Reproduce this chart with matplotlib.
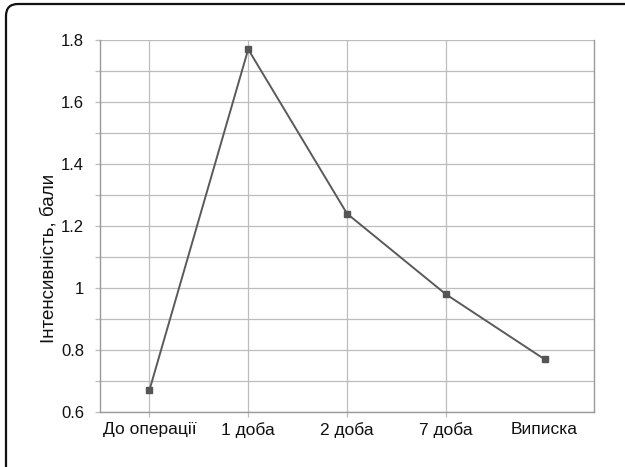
import matplotlib
matplotlib.use("Agg")
import matplotlib.pyplot as plt
from matplotlib.path import Path
from matplotlib.patches import PathPatch
from matplotlib.ticker import MultipleLocator

plt.rcParams['font.family'] = ['Liberation Sans', 'DejaVu Sans']

categories = ["До операції", "1 доба", "2 доба", "7 доба", "Випиcка"]
intensity = [0.67, 1.77, 1.24, 0.98, 0.77]
y_ticks = [0.6, 0.8, 1.0, 1.2, 1.4, 1.6, 1.8]
y_tick_labels = ["0.6", "0.8", "1", "1.2", "1.4", "1.6", "1.8"]

W, H = 625, 467
fig = plt.figure(figsize=(W / 100, H / 100), dpi=100)
fig.patch.set_facecolor("white")

# frame along the left and top edges with a rounded corner
r = 12
verts = [(6 / W, 0.0), (6 / W, 1 - (4 + r) / H),
         (6 / W, 1 - 4 / H), ((6 + r) / W, 1 - 4 / H),
         (1.0, 1 - 4 / H)]
codes = [Path.MOVETO, Path.LINETO, Path.CURVE3, Path.CURVE3, Path.LINETO]
fig.patches.append(PathPatch(Path(verts, codes), transform=fig.transFigure,
                             fill=False, edgecolor="#111111", linewidth=1.6))

ax_left, ax_bottom, ax_w, ax_h = 100, 412, 494, 372
ax = fig.add_axes([ax_left / W, 1 - ax_bottom / H, ax_w / W, ax_h / H])
x = list(range(len(categories)))

grid_c = "#bdbdbd"
ax.set_xlim(-0.5, len(categories) - 0.5)
ax.set_ylim(0.6, 1.8)
ax.yaxis.set_minor_locator(MultipleLocator(0.1))
ax.set_yticks(y_ticks)
ax.set_yticklabels(y_tick_labels)
ax.set_xticks(x)
ax.set_xticklabels(categories)

for yv in [0.6 + 0.1 * i for i in range(13)]:
    ax.axhline(yv, color=grid_c, linewidth=0.9, zorder=1)
for xv in x[:-1]:
    ax.axvline(xv, color=grid_c, linewidth=0.9, zorder=1)

ax.plot(x, intensity, color="#5a5a5a", linewidth=1.4, zorder=3,
        marker="s", markersize=5, markerfacecolor="#555555",
        markeredgecolor="#555555")

for side in ["left", "bottom", "right"]:
    ax.spines[side].set_color("#9a9a9a")
    ax.spines[side].set_linewidth(1.0)
ax.spines["top"].set_visible(False)

ax.tick_params(axis="both", which="both", direction="out", color="#bdbdbd",
               length=3.5, width=0.9, labelsize=12, labelcolor="#111111")
ax.tick_params(axis="x", labelsize=12.5, pad=4)
ax.tick_params(axis="y", which="major", pad=8)
ax.xaxis.get_major_ticks()[-1].tick1line.set_visible(False)

ax.set_ylabel("Інтенсивність, бали", fontsize=13.5, color="#111111")
ax.yaxis.set_label_coords((58 - ax_left) / ax_w, (ax_bottom - 258) / ax_h)

fig.savefig("out.png", dpi=100)
